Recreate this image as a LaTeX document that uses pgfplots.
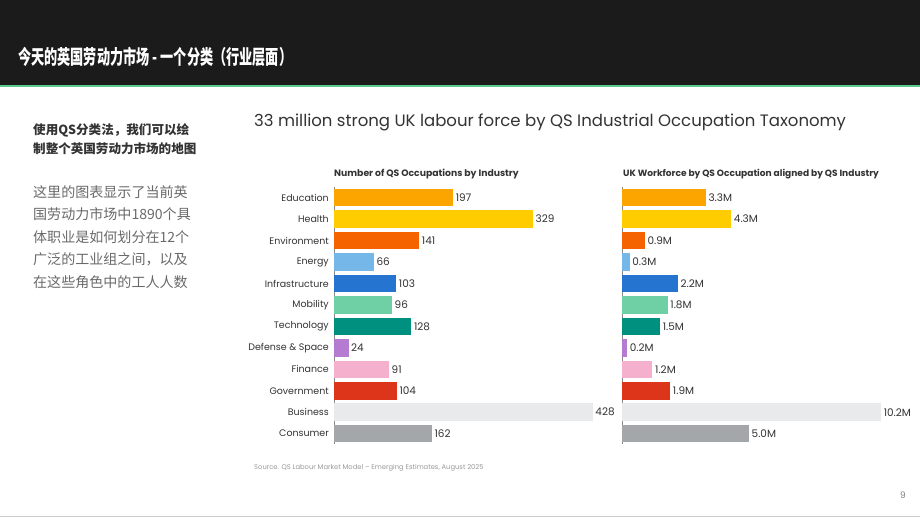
\documentclass[border=0pt]{standalone}
\usepackage{fontspec}
\usepackage{graphicx}
\usepackage{pgfplots}
\pgfplotsset{compat=1.18}
\setmainfont{Poppins}
\newfontfamily\cjk{Noto Sans CJK SC}

\definecolor{hdr}{HTML}{1B1B1B}
\definecolor{grn}{HTML}{5CC98C}
\definecolor{txt}{HTML}{333333}
\definecolor{body}{HTML}{6A6A6A}
\definecolor{axisgray}{HTML}{8A8A8A}
\definecolor{ced}{HTML}{FCA500}
\definecolor{chl}{HTML}{FFCC00}
\definecolor{cen}{HTML}{F56300}
\definecolor{cer}{HTML}{76B7E9}
\definecolor{cin}{HTML}{2474D0}
\definecolor{cmo}{HTML}{6FD0A6}
\definecolor{cte}{HTML}{009080}
\definecolor{cde}{HTML}{B57BD1}
\definecolor{cfi}{HTML}{F5B0CE}
\definecolor{cgo}{HTML}{DC3519}
\definecolor{cbu}{HTML}{E9EAEC}
\definecolor{cco}{HTML}{A4A7AA}

\pgfplotsset{
  panel/.style={
    scale only axis,
    anchor=north west,
    height=257.4bp,
    ymin=-0.5, ymax=11.5,
    y dir=reverse,
    xmin=0,
    axis x line=none,
    axis y line*=left,
    y axis line style={axisgray, line width=0.9bp},
    major tick length=0pt,
    xbar, bar shift=0pt, bar width=17.5bp,
    point meta=x,
    nodes near coords,
    nodes near coords style={font=\fontsize{10.5}{12}\selectfont, text=txt, inner sep=2.5bp},
    /pgf/number format/assume math mode=true,
    clip=false,
    every axis plot/.append style={draw=none},
  },
}

\begin{document}
\begin{tikzpicture}[x=1bp,y=1bp]
  % page
  \fill[white] (0,0) rectangle (920,518);
  \path[use as bounding box] (0,0) rectangle (920,518);
  % header band
  \fill[hdr] (0,518) rectangle (920,433);
  \fill[grn] (0,433) rectangle (920,430.5);
  \node[anchor=west, inner sep=0, text=white] at (18,461)
    {\scalebox{0.66}[1]{\cjk\bfseries\fontsize{20}{24}\selectfont 今天的英国劳动力市场 - 一个分类（行业层面）}};
  % left column
  \node[anchor=west, inner sep=0, text=txt] at (33,388)
    {\cjk\bfseries\fontsize{12.6}{15}\selectfont 使用QS分类法，我们可以绘};
  \node[anchor=west, inner sep=0, text=txt] at (33,369)
    {\cjk\bfseries\fontsize{12.6}{15}\selectfont 制整个英国劳动力市场的地图};
  \node[anchor=west, inner sep=0, text=body] at (33,326.3) {\cjk\fontsize{14.1}{17}\selectfont 这里的图表显示了当前英};
  \node[anchor=west, inner sep=0, text=body] at (33,303.7) {\cjk\fontsize{14.1}{17}\selectfont 国劳动力市场中1890个具};
  \node[anchor=west, inner sep=0, text=body] at (33,281.0) {\cjk\fontsize{14.1}{17}\selectfont 体职业是如何划分在12个};
  \node[anchor=west, inner sep=0, text=body] at (33,258.3) {\cjk\fontsize{14.1}{17}\selectfont 广泛的工业组之间，以及};
  \node[anchor=west, inner sep=0, text=body] at (33,235.5) {\cjk\fontsize{14.1}{17}\selectfont 在这些角色中的工人人数};
  % titles
  \node[anchor=west, inner sep=0, text=txt] at (254,396)
    {\fontsize{16.6}{20}\selectfont 33 million strong UK labour force by QS Industrial Occupation Taxonomy};
  \node[anchor=west, inner sep=0, text=txt] at (334,344)
    {\fontsize{9.3}{11}\selectfont\bfseries Number of QS Occupations by Industry};
  \node[anchor=west, inner sep=0, text=txt] at (623,344)
    {\fontsize{9.1}{11}\selectfont\bfseries UK Workforce by QS Occupation aligned by QS Industry};
  % source and footer
  \node[anchor=west, inner sep=0, text=gray!80] at (254,50)
    {\fontsize{6.8}{8}\selectfont Source. QS Labour Market Model -- Emerging Estimates, August 2025};
  \node[inner sep=0, text=gray] at (903,23) {\fontsize{9}{11}\selectfont 9};
  \draw[gray!40, line width=0.8bp] (0,1.2) -- (920,1.2);

  % number of occupations by industry
  \begin{axis}[panel, at={(334bp,331bp)}, width=266bp, xmax=440,
    ytick={0,...,11},
    yticklabels={Education,Health,Environment,Energy,Infrastructure,Mobility,Technology,Defense \& Space,Finance,Government,Business,Consumer},
    yticklabel style={font=\fontsize{9.5}{11}\selectfont, text=txt, inner sep=1bp, xshift=-4bp},
  ]
    \addplot[fill=ced] coordinates {(197,0)};
    \addplot[fill=chl] coordinates {(329,1)};
    \addplot[fill=cen] coordinates {(141,2)};
    \addplot[fill=cer] coordinates {(66,3)};
    \addplot[fill=cin] coordinates {(103,4)};
    \addplot[fill=cmo] coordinates {(96,5)};
    \addplot[fill=cte] coordinates {(128,6)};
    \addplot[fill=cde] coordinates {(24,7)};
    \addplot[fill=cfi] coordinates {(91,8)};
    \addplot[fill=cgo] coordinates {(104,9)};
    \addplot[fill=cbu] coordinates {(428,10)};
    \addplot[fill=cco] coordinates {(162,11)};
  \end{axis}

  % workforce by industry, millions
  \begin{axis}[panel, at={(622bp,331bp)}, width=266.7bp, xmax=10.5,
    ytick=\empty,
    nodes near coords={\pgfmathprintnumber[fixed,fixed zerofill,precision=1]{\pgfplotspointmeta}M},
  ]
    \addplot[fill=ced] coordinates {(3.3,0)};
    \addplot[fill=chl] coordinates {(4.3,1)};
    \addplot[fill=cen] coordinates {(0.9,2)};
    \addplot[fill=cer] coordinates {(0.3,3)};
    \addplot[fill=cin] coordinates {(2.2,4)};
    \addplot[fill=cmo] coordinates {(1.8,5)};
    \addplot[fill=cte] coordinates {(1.5,6)};
    \addplot[fill=cde] coordinates {(0.2,7)};
    \addplot[fill=cfi] coordinates {(1.2,8)};
    \addplot[fill=cgo] coordinates {(1.9,9)};
    \addplot[fill=cbu] coordinates {(10.2,10)};
    \addplot[fill=cco] coordinates {(5.0,11)};
  \end{axis}
\end{tikzpicture}
\end{document}
